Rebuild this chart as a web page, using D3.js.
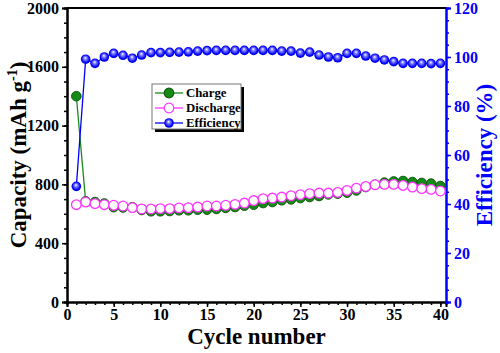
<!DOCTYPE html>
<html>
<head>
<meta charset="utf-8">
<script src="https://cdn.jsdelivr.net/npm/d3@7"></script>
<style>
  body { margin: 0; background: #fff; }
</style>
</head>
<body>
<div id="chart"></div>
<script>
var cycles = d3.range(1, 41);
var charge = [1400, 685, 680, 670, 645, 643, 645, 626, 617, 617, 619, 624, 624, 628, 628, 633, 640, 646, 655, 662,
              673, 680, 692, 698, 707, 714, 721, 732, 737, 744, 759, 782, 798, 812, 820, 823, 816, 810, 805, 789];
var discharge = [662, 680, 669, 662, 658, 653, 642, 633, 633, 635, 635, 640, 642, 646, 653, 653, 658, 664, 673, 690,
                 703, 707, 714, 723, 730, 737, 741, 741, 746, 759, 775, 786, 798, 800, 800, 793, 782, 771, 766, 755];
var efficiency = [47.2, 99.1, 97.4, 100, 101.5, 100.7, 99.5, 100.8, 101.8, 101.8, 101.9, 102, 102.1, 102.4, 102.6, 102.7, 102.7, 102.7, 102.7, 102.7,
                  102.7, 102.7, 102.4, 102.4, 101.6, 102, 100.8, 100, 99.7, 101.5, 101.5, 100.4, 99.5, 98.8, 98.1, 97.4, 97.4, 97.4, 97.3, 97.4];
var xTicks = [0, 5, 10, 15, 20, 25, 30, 35, 40];
var capTicks = [0, 400, 800, 1200, 1600, 2000];
var effTicks = [0, 20, 40, 60, 80, 100, 120];

var w = 500, h = 353;
var margin = { top: 8, right: 54, bottom: 51, left: 67 };
var serif = "'Liberation Serif'";

var svg = d3.select("#chart").append("svg")
    .attr("width", w)
    .attr("height", h);

var x = d3.scaleLinear().domain([0, 40.6]).range([margin.left, w - margin.right]);
var yL = d3.scaleLinear().domain([0, 2000]).range([h - margin.bottom, margin.top]);
var yR = d3.scaleLinear().domain([0, 120]).range([h - margin.bottom, margin.top]);

var defs = svg.append("defs");
var grad = defs.append("radialGradient").attr("id", "ball")
    .attr("cx", "50%").attr("cy", "50%").attr("r", "55%")
    .attr("fx", "45%").attr("fy", "35%");
grad.append("stop").attr("offset", "0%").attr("stop-color", "#ffffff");
grad.append("stop").attr("offset", "30%").attr("stop-color", "#8080ff");
grad.append("stop").attr("offset", "75%").attr("stop-color", "#0000ff");
grad.append("stop").attr("offset", "100%").attr("stop-color", "#0000c8");

function styleTicks(g, color) {
    g.attr("font-family", null).attr("font-size", null);
    g.selectAll("text")
        .attr("fill", color)
        .style("font-family", serif)
        .style("font-weight", "bold")
        .style("font-size", "16px");
    g.selectAll("path, line").attr("stroke", color);
    g.select(".domain").attr("stroke-width", 2);
    g.selectAll(".tick line").attr("stroke-width", 1.5);
}

// axes
var bottom = h - margin.bottom;
svg.append("g").attr("transform", "translate(0," + bottom + ")")
    .call(d3.axisBottom(x).tickValues(d3.range(0, 41)).tickFormat("").tickSize(3))
    .call(styleTicks, "#000");
svg.append("g").attr("transform", "translate(0," + bottom + ")")
    .call(d3.axisBottom(x).tickValues(xTicks).tickFormat(d3.format("d")).tickSize(5).tickPadding(2))
    .call(styleTicks, "#000");

svg.append("g").attr("transform", "translate(" + margin.left + ",0)")
    .call(d3.axisLeft(yL).tickValues(d3.range(0, 2001, 100)).tickFormat("").tickSize(3))
    .call(styleTicks, "#000");
svg.append("g").attr("transform", "translate(" + margin.left + ",0)")
    .call(d3.axisLeft(yL).tickValues(capTicks).tickFormat(d3.format("d")).tickSize(5).tickPadding(3))
    .call(styleTicks, "#000");

svg.append("g").attr("transform", "translate(" + (w - margin.right) + ",0)")
    .call(d3.axisRight(yR).tickValues(d3.range(0, 121, 5)).tickFormat("").tickSize(3))
    .call(styleTicks, "#0000ff");
svg.append("g").attr("transform", "translate(" + (w - margin.right) + ",0)")
    .call(d3.axisRight(yR).tickValues(effTicks).tickFormat(d3.format("d")).tickSize(5).tickPadding(3))
    .call(styleTicks, "#0000ff");

svg.append("line")
    .attr("x1", margin.left).attr("x2", w - margin.right)
    .attr("y1", margin.top).attr("y2", margin.top)
    .attr("stroke", "#000").attr("stroke-width", 2);

// axis titles
svg.append("text")
    .attr("x", (margin.left + w - margin.right) / 2).attr("y", 344)
    .attr("text-anchor", "middle").attr("font-size", 23)
    .style("font-family", serif).style("font-weight", "bold")
    .text("Cycle number");

var capLabel = svg.append("text")
    .attr("transform", "translate(26," + ((margin.top + bottom) / 2) + ") rotate(-90)")
    .attr("text-anchor", "middle").attr("font-size", 23)
    .style("font-family", serif).style("font-weight", "bold");
capLabel.append("tspan").text("Capacity (mAh g");
capLabel.append("tspan").attr("font-size", 14).attr("dy", -9).text("-1");
capLabel.append("tspan").attr("dy", 9).text(")");

svg.append("text")
    .attr("transform", "translate(492," + ((margin.top + bottom) / 2) + ") rotate(-90)")
    .attr("text-anchor", "middle").attr("font-size", 23).attr("fill", "#0000ff")
    .style("font-family", serif).style("font-weight", "bold")
    .text("Efficiency (%)");

// series
var lineCap = function (vals) {
    return d3.line().x(function (d, i) { return x(cycles[i]); }).y(function (d) { return yL(d); })(vals);
};
var lineEff = d3.line().x(function (d, i) { return x(cycles[i]); }).y(function (d) { return yR(d); });

var r = 4.8;

svg.append("path").attr("d", lineCap(charge)).attr("fill", "none").attr("stroke", "#1a8a1a").attr("stroke-width", 1.3);
svg.append("g").selectAll("circle").data(charge).enter().append("circle")
    .attr("cx", function (d, i) { return x(cycles[i]); })
    .attr("cy", function (d) { return yL(d); })
    .attr("r", r).attr("fill", "#168a16").attr("stroke", "#0c5a0c").attr("stroke-width", 1);

svg.append("path").attr("d", lineCap(discharge)).attr("fill", "none").attr("stroke", "#ff33ff").attr("stroke-width", 1.3);
svg.append("g").selectAll("circle").data(discharge).enter().append("circle")
    .attr("cx", function (d, i) { return x(cycles[i]); })
    .attr("cy", function (d) { return yL(d); })
    .attr("r", r).attr("fill", "#fff").attr("stroke", "#ff33ff").attr("stroke-width", 1.3);

svg.append("path").attr("d", lineEff(efficiency)).attr("fill", "none").attr("stroke", "#0000ff").attr("stroke-width", 1.3);
svg.append("g").selectAll("circle").data(efficiency).enter().append("circle")
    .attr("cx", function (d, i) { return x(cycles[i]); })
    .attr("cy", function (d) { return yR(d); })
    .attr("r", r).attr("fill", "url(#ball)");

// legend
var legendItems = ["Charge", "Discharge", "Efficiency"];
var lg = svg.append("g").attr("transform", "translate(152,84)");
lg.append("rect").attr("x", 3).attr("y", 3).attr("width", 89).attr("height", 45).attr("fill", "#000");
lg.append("rect").attr("x", 0).attr("y", 0).attr("width", 89).attr("height", 45)
    .attr("fill", "#fff").attr("stroke", "#777").attr("stroke-width", 1);
var rows = lg.selectAll("g.row").data(legendItems).enter().append("g")
    .attr("transform", function (d, i) { return "translate(0," + (9 + i * 15) + ")"; });
var lcol = ["#1a8a1a", "#ff33ff", "#0000ff"];
rows.append("line").attr("x1", 3).attr("x2", 31).attr("y1", 0).attr("y2", 0)
    .attr("stroke", function (d, i) { return lcol[i]; }).attr("stroke-width", 1.3);
rows.append("circle").attr("cx", 17).attr("cy", 0).attr("r", r)
    .attr("fill", function (d, i) { return i === 0 ? "#168a16" : i === 1 ? "#fff" : "url(#ball)"; })
    .attr("stroke", function (d, i) { return i === 0 ? "#0c5a0c" : i === 1 ? "#ff33ff" : "none"; })
    .attr("stroke-width", 1.2);
rows.append("text").attr("x", 34).attr("y", 4).attr("font-size", 12.8)
    .style("font-family", serif).style("font-weight", "bold")
    .text(function (d) { return d; });
</script>
</body>
</html>
